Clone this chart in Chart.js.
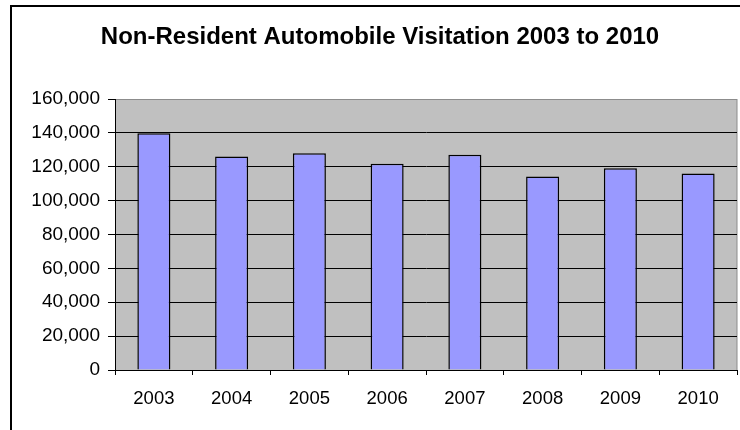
<!DOCTYPE html>
<html>
<head>
<meta charset="utf-8">
<script src="https://cdn.jsdelivr.net/npm/chart.js@4/dist/chart.umd.min.js"></script>
<style>
  html, body { margin: 0; padding: 0; background: #fff; }
  #wrap { width: 740px; height: 430px; }
</style>
</head>
<body>
<div id="wrap"><canvas id="c" width="740" height="430"></canvas></div>
<script>
const titleText = 'Non-Resident Automobile Visitation 2003 to 2010';
const categories = ['2003', '2004', '2005', '2006', '2007', '2008', '2009', '2010'];
const visits = [139800, 126000, 128000, 121700, 127100, 114200, 119100, 116000];
const yMin = 0;
const yMax = 160000;
const yStep = 20000;

const FONT = '"Liberation Sans", Arial, Helvetica, sans-serif';

const frame = {
  id: 'frame',
  beforeDraw(chart) {
    const ctx = chart.ctx;
    const a = chart.chartArea;
    ctx.save();
    // outer chart border (extends past the right/bottom of the window)
    ctx.strokeStyle = '#000';
    ctx.lineWidth = 2;
    ctx.strokeRect(11, 6, 760, 460);
    // plot area background
    ctx.fillStyle = '#C0C0C0';
    ctx.fillRect(a.left, a.top, a.right - a.left, a.bottom - a.top);
    ctx.strokeStyle = '#8c8c8c';
    ctx.lineWidth = 1;
    ctx.strokeRect(a.left + 0.5, a.top + 0.5, a.right - a.left - 0.5, a.bottom - a.top);
    ctx.restore();
  }
};

new Chart(document.getElementById('c'), {
  type: 'bar',
  data: {
    labels: categories,
    datasets: [{
      data: visits,
      backgroundColor: '#9999FF',
      borderColor: '#000000',
      borderWidth: 1.5,
      categoryPercentage: 1,
      barPercentage: 0.425
    }]
  },
  options: {
    responsive: false,
    animation: false,
    devicePixelRatio: 1,
    layout: { padding: { left: 23, right: 3, top: 0, bottom: 0 } },
    plugins: {
      legend: { display: false },
      tooltip: { enabled: false },
      title: {
        display: true,
        text: titleText,
        color: '#000',
        font: { family: FONT, size: 24, weight: 'bold', lineHeight: 1.2 },
        padding: { top: 22.6, bottom: 47.6 }
      }
    },
    scales: {
      x: {
        offset: true,
        grid: {
          offset: true,
          drawOnChartArea: false,
          drawTicks: true,
          tickLength: 5,
          color: '#000',
          lineWidth: 1
        },
        border: { display: true, color: '#000', width: 1 },
        ticks: {
          color: '#000',
          font: { family: FONT, size: 18.5 },
          padding: 13,
          maxRotation: 0
        },
        afterFit(scale) { scale.height = 60; }
      },
      y: {
        min: yMin,
        max: yMax,
        grid: {
          drawTicks: true,
          tickLength: 7,
          color: (c) => (c.tick && c.tick.value === yMax) ? '#8c8c8c' : '#000',
          tickColor: '#000',
          lineWidth: 1
        },
        border: { display: true, color: '#000', width: 1 },
        ticks: {
          stepSize: yStep,
          color: '#000',
          font: { family: FONT, size: 19 },
          padding: 8,
          callback: (v) => v.toLocaleString('en-US')
        },
        afterFit(scale) { scale.width = 92; }
      }
    }
  },
  plugins: [frame]
});
</script>
</body>
</html>
